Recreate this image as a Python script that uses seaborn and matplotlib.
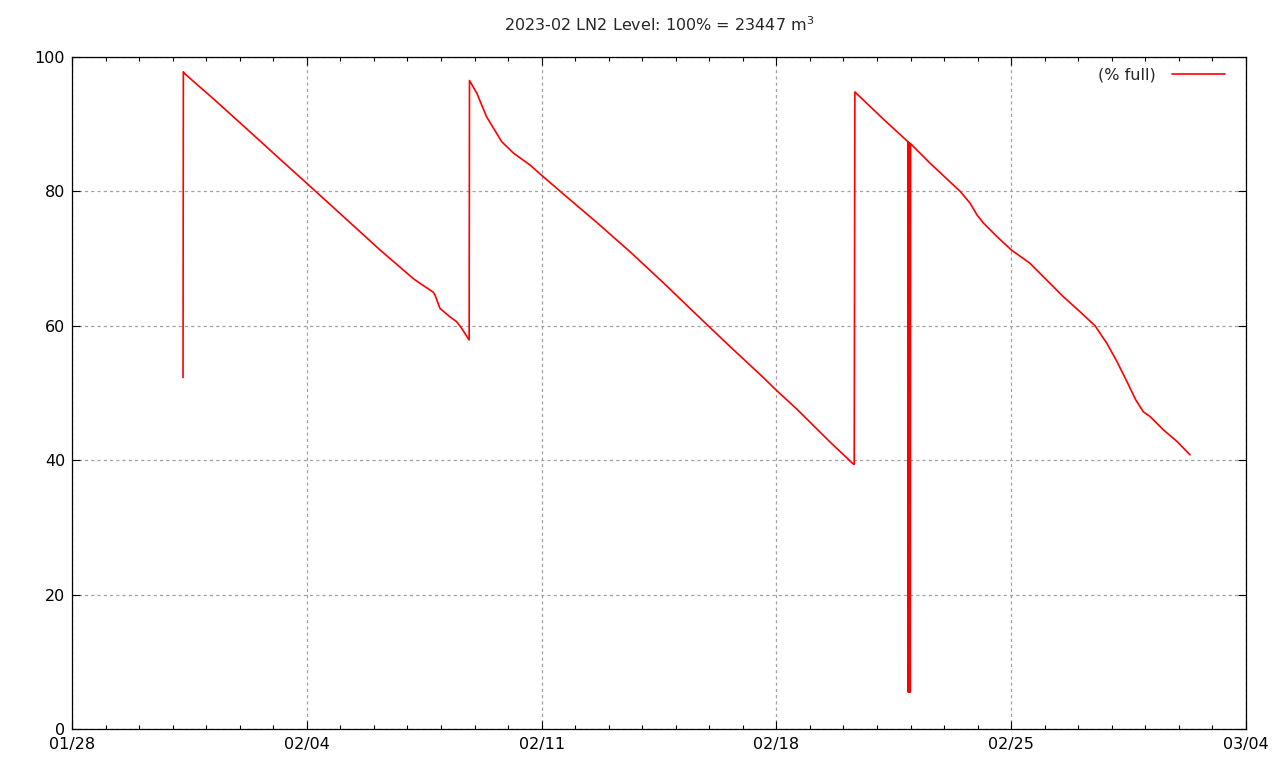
import pandas as pd
import numpy as np
import matplotlib
matplotlib.use("Agg")
import matplotlib.pyplot as plt
import matplotlib.dates as mdates
import seaborn as sns

# LN2 level (% full); days counted from 2023-01-28 00:00
start_date = "2023-01-28"

# before first fill -> fill on 02/01
seg1_days = [3.31, 3.32, 3.34, 4.21, 5.21, 6.20, 7.00, 8.19, 9.18, 10.18, 10.38, 10.77, 10.82, 10.97, 11.25, 11.47, 11.62, 11.84]
seg1_level = [52.3, 97.8, 97.6, 93.8, 89.3, 84.8, 81.2, 75.8, 71.3, 67.0, 66.3, 65.0, 64.6, 62.6, 61.4, 60.6, 59.6, 57.9]

# second fill on 02/08
seg2_days = [11.85, 12.07, 12.36, 12.81, 13.16, 13.66, 14.00, 14.65, 15.64, 16.64, 17.63, 18.63, 19.62, 20.61, 21.00, 21.61, 22.60, 23.30]
seg2_level = [96.5, 94.6, 91.1, 87.4, 85.7, 83.9, 82.4, 79.6, 75.4, 71.0, 66.4, 61.6, 56.9, 52.3, 50.4, 47.6, 42.7, 39.4]

# third fill on 02/20, with the sensor dropout on 02/21
seg3_days = [23.32, 23.34, 24.20, 24.92, 24.93, 24.94, 24.96, 24.97, 24.99, 25.00, 25.58, 26.48, 26.78, 26.98, 27.17,
             27.57, 28.00, 28.56, 29.56, 30.05, 30.50, 30.85, 31.15, 31.45, 31.71, 31.94, 32.14, 32.54, 32.94, 33.33]
seg3_level = [39.4, 94.8, 90.7, 87.4, 5.5, 87.3, 5.5, 87.2, 5.5, 87.1, 84.2, 80.0, 78.2, 76.5, 75.3,
              73.3, 71.3, 69.3, 64.3, 62.1, 60.0, 57.4, 54.7, 51.7, 49.0, 47.2, 46.5, 44.5, 42.8, 40.8]

days = seg1_days + seg2_days + seg3_days
level = seg1_level + seg2_level + seg3_level

df = pd.DataFrame({
    "time": pd.Timestamp(start_date) + pd.to_timedelta(days, unit="D"),
    "level": level,
})

sns.set_style("ticks")
plt.rcParams["font.family"] = ["DejaVu Sans"]

fig = plt.figure(figsize=(12.8, 7.68), dpi=100)
ax = fig.add_axes([72 / 1280, 39 / 768, 1174 / 1280, 672 / 768])

sns.lineplot(data=df, x="time", y="level", sort=False, estimator=None,
             color="red", lw=1.2, label="(% full)", ax=ax)

ax.set_xlim(pd.Timestamp("2023-01-28"), pd.Timestamp("2023-03-04"))
ax.set_ylim(0, 100)
ax.set_yticks([0, 20, 40, 60, 80, 100])
ax.set_xticks(pd.date_range("2023-01-28", "2023-03-04", freq="7D"))
ax.set_xticks(pd.date_range("2023-01-28", "2023-03-04", freq="D"), minor=True)
ax.xaxis.set_major_formatter(mdates.DateFormatter("%m/%d"))

ax.grid(which="major", color="#a0a0a0", linestyle=(0, (2.5, 2.5)), lw=0.9)
ax.set_axisbelow(True)
ax.tick_params(which="both", direction="in", top=True, right=True, colors="black",
               labelsize=11.5, width=0.8)
ax.tick_params(which="major", length=6, pad=6)
ax.tick_params(which="minor", length=3)
ax.tick_params(axis="y", pad=5)
for s in ax.spines.values():
    s.set_color("black")
    s.set_linewidth(0.9)

ax.set_xlabel("")
ax.set_ylabel("")
ax.set_title("2023-02 LN2 Level: 100% = 23447 m$^3$", fontsize=11.5, pad=19)

ax.legend(loc="upper right", bbox_to_anchor=(0.986, 0.991), frameon=False,
          markerfirst=False, fontsize=11.5, handlelength=3.3, handletextpad=1.0,
          borderaxespad=0, borderpad=0.3)

fig.savefig("out.png", dpi=100)
